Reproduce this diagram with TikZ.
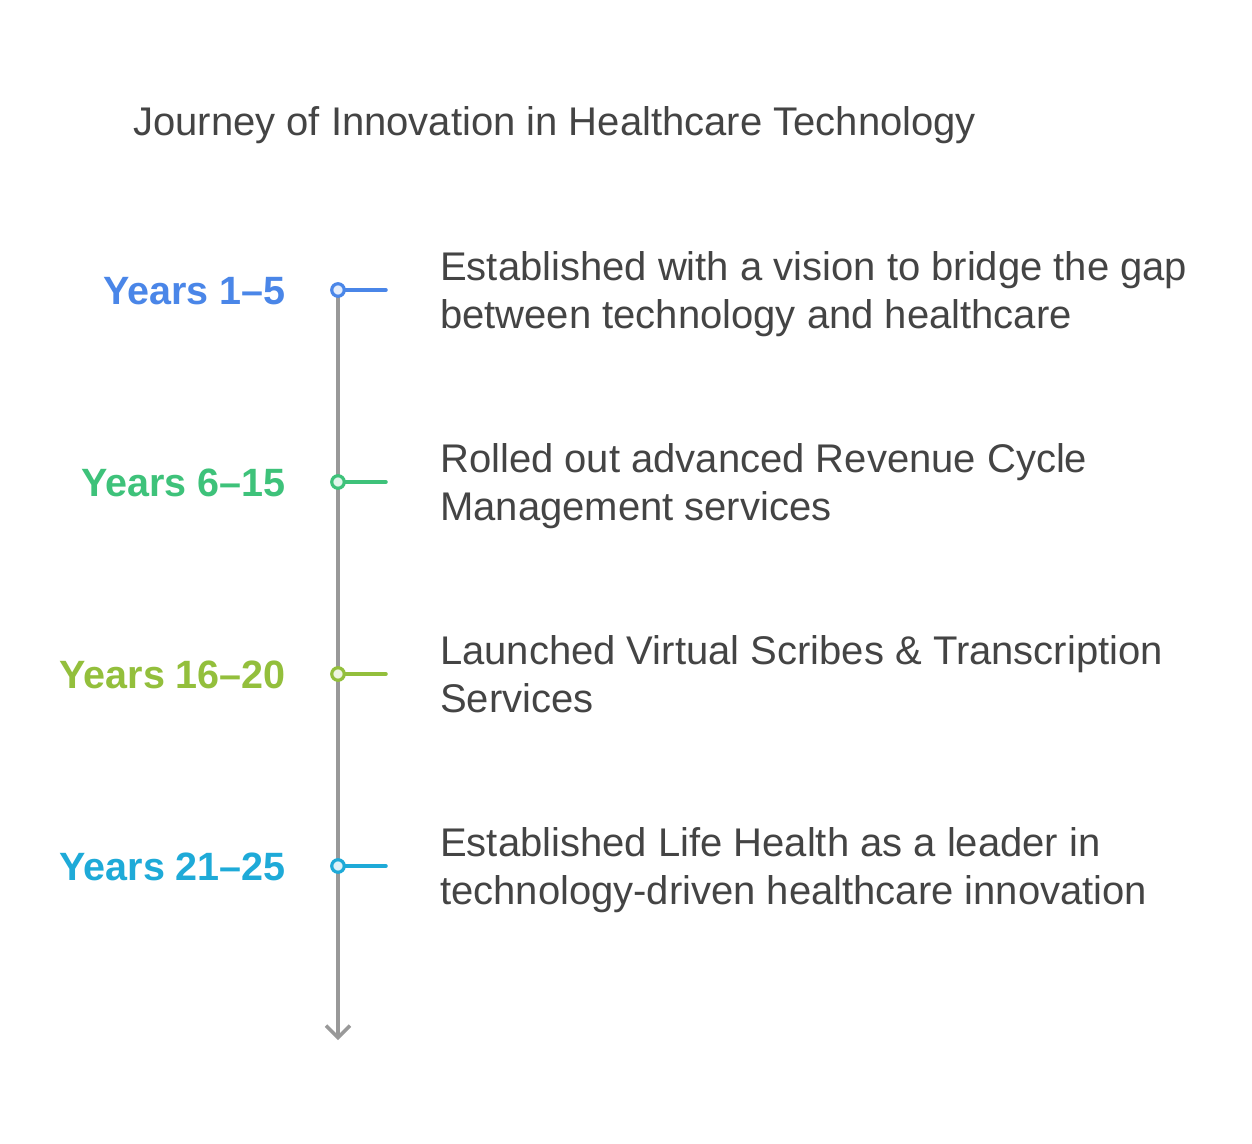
\documentclass[tikz,border=0pt]{standalone}
\usepackage{fontspec}
\setmainfont{Liberation Sans}
\usetikzlibrary{arrows.meta}
\definecolor{txtgray}{HTML}{444444}
\definecolor{linegray}{HTML}{999999}
\definecolor{cA}{HTML}{4A86E8}
\definecolor{cB}{HTML}{3EC27A}
\definecolor{cC}{HTML}{93BF3C}
\definecolor{cD}{HTML}{1EAAD8}
\begin{document}
\begin{tikzpicture}[x=1pt,y=-1pt,
  yearlbl/.style={anchor=base east,inner sep=0pt,font=\fontsize{39.5}{48}\selectfont\bfseries},
  desc/.style={anchor=base west,inner sep=0pt,align=left,text=txtgray,font=\fontsize{40}{48}\selectfont},
  dot/.style={circle,draw=#1,fill=#1!15,line width=3.2pt,minimum size=12.5pt,inner sep=0pt},
  tick/.style={draw=#1,line width=3.5pt,line cap=round}]
\fill[white] (0,0) rectangle (1252,1143);
\useasboundingbox (0,0) rectangle (1252,1143);
\node[anchor=base west,inner sep=0pt,text=txtgray,font=\fontsize{40}{48}\selectfont] (title) at (133,135) {Journey of Innovation in Healthcare Technology};
\coordinate (end) at (338,1040);
\draw[linegray,line width=3.5pt,-{Straight Barb[length=12pt,width=24pt,line width=3.5pt]}] (338,296) -- (end);
\foreach \y/\c/\n/\lbl in {290/cA/a/{Years 1–5},482/cB/b/{Years 6–15},674/cC/c/{Years 16–20},866/cD/d/{Years 21–25}}{
  \node[yearlbl,text=\c] (lbl\n) at (286,\y+14) {\lbl};
  \coordinate (tk\n) at (386,\y);
  \draw[tick=\c] (338,\y) -- (tk\n);
  \node[dot=\c] (dot\n) at (338,\y) {};
}
\node[desc] (da) at (440,328) {Established with a vision to bridge the gap\\between technology and healthcare};
\node[desc] (db) at (440,520) {Rolled out advanced Revenue Cycle\\Management services};
\node[desc] (dc) at (440,712) {Launched Virtual Scribes \& Transcription\\Services};
\node[desc] (dd) at (440,904) {Established Life Health as a leader in\\technology-driven healthcare innovation};
\end{tikzpicture}
\end{document}
